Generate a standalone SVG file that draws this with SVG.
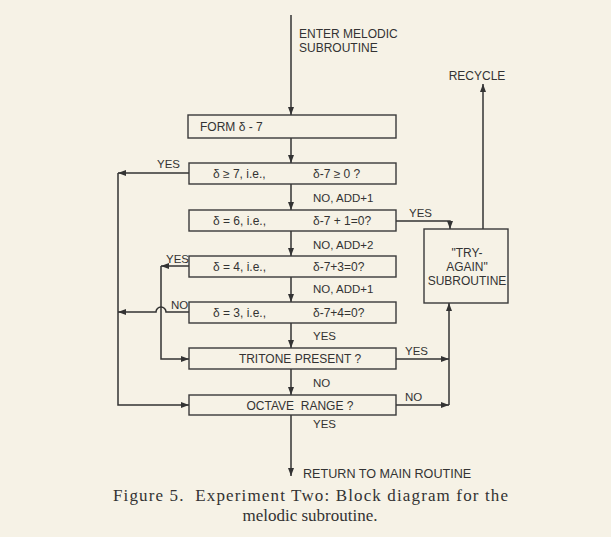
<svg xmlns="http://www.w3.org/2000/svg" width="611" height="537" viewBox="0 0 611 537">
<defs>
<marker id="ah" markerWidth="8" markerHeight="6" refX="8" refY="3" orient="auto" markerUnits="userSpaceOnUse"><path d="M0,0 L8,3 L0,6 z" fill="#333"/></marker>
</defs>
<style>
.bx{fill:none;stroke:#3a3a3a;stroke-width:1.4}
.ln{fill:none;stroke:#333;stroke-width:1.5}
.t{font-family:"Liberation Sans",Arial,sans-serif;font-size:12px;fill:#333}
.s{font-family:"Liberation Sans",Arial,sans-serif;font-size:11.5px;fill:#333}
.c{font-family:"Liberation Serif","Times New Roman",serif;font-size:17px;fill:#333}
</style>
<rect width="611" height="537" fill="#f6f2e6"/>
<g id="connectors">
<path class="ln" d="M291,15 V115" marker-end="url(#ah)"/>
<path class="ln" d="M291,138 V163" marker-end="url(#ah)"/>
<path class="ln" d="M291,184 V210" marker-end="url(#ah)"/>
<path class="ln" d="M291,231 V256" marker-end="url(#ah)"/>
<path class="ln" d="M291,277 V302" marker-end="url(#ah)"/>
<path class="ln" d="M291,323 V348" marker-end="url(#ah)"/>
<path class="ln" d="M291,369 V395" marker-end="url(#ah)"/>
<path class="ln" d="M291,415 V476" marker-end="url(#ah)"/>
<path class="ln" d="M189,173 H118" marker-end="url(#ah)"/>
<path class="ln" d="M118,173 V405 H189" marker-end="url(#ah)"/>
<path class="ln" d="M189,266 H161" marker-end="url(#ah)"/>
<path class="ln" d="M161,266 V359 H189" marker-end="url(#ah)"/>
<path class="ln" d="M189,312 H166 A5,5 0 0 0 156,312 H118" marker-end="url(#ah)"/>
<path class="ln" d="M396,221 H450 V229" marker-end="url(#ah)"/>
<path class="ln" d="M483,229 V84" marker-end="url(#ah)"/>
<path class="ln" d="M396,359 H449" marker-end="url(#ah)"/>
<path class="ln" d="M396,405 H449" marker-end="url(#ah)"/>
<path class="ln" d="M449,405 V303" marker-end="url(#ah)"/>
</g>
<g id="labels">
<text class="t" x="299" y="38">ENTER MELODIC</text>
<text class="t" x="299" y="51.5">SUBROUTINE</text>
<text class="t" x="477" y="80" text-anchor="middle">RECYCLE</text>
<text class="s" x="157" y="168">YES</text>
<text class="s" x="313" y="202">NO, ADD+1</text>
<text class="s" x="409" y="217">YES</text>
<text class="s" x="313" y="249">NO, ADD+2</text>
<text class="s" x="166" y="263">YES</text>
<text class="s" x="313" y="293">NO, ADD+1</text>
<text class="s" x="171" y="309">NO</text>
<text class="s" x="313" y="340">YES</text>
<text class="s" x="405" y="355">YES</text>
<text class="s" x="313" y="387">NO</text>
<text class="s" x="405" y="401">NO</text>
<text class="s" x="313" y="428">YES</text>
<text class="t" x="303" y="478" style="font-size:12.6px">RETURN TO MAIN ROUTINE</text>
</g>
<g id="n-form"><rect class="bx" x="188" y="115" width="208" height="23"/><text class="t" x="200" y="131">FORM δ - 7</text></g>
<g id="n-d7"><rect class="bx" x="189" y="163" width="207" height="21"/><text class="t" x="213" y="177.5" xml:space="preserve">δ ≥ 7, i.e.,</text><text class="t" x="313" y="177.5">δ-7 ≥ 0 ?</text></g>
<g id="n-d6"><rect class="bx" x="189" y="210" width="207" height="21"/><text class="t" x="213" y="225" xml:space="preserve">δ = 6, i.e.,</text><text class="t" x="313" y="225">δ-7 + 1=0?</text></g>
<g id="n-d4"><rect class="bx" x="189" y="256" width="207" height="21"/><text class="t" x="213" y="271" xml:space="preserve">δ = 4, i.e.,</text><text class="t" x="313" y="271">δ-7+3=0?</text></g>
<g id="n-d3"><rect class="bx" x="189" y="302" width="207" height="21"/><text class="t" x="213" y="317" xml:space="preserve">δ = 3, i.e.,</text><text class="t" x="313" y="317">δ-7+4=0?</text></g>
<g id="n-tritone"><rect class="bx" x="189" y="348" width="207" height="21"/><text class="t" x="300" y="363" text-anchor="middle">TRITONE PRESENT ?</text></g>
<g id="n-octave"><rect class="bx" x="189" y="395" width="207" height="20"/><text class="t" x="300" y="409.5" text-anchor="middle" xml:space="preserve">OCTAVE  RANGE ?</text></g>
<g id="n-tryagain"><rect class="bx" x="424" y="229" width="84" height="74"/><text class="t" x="467" y="257" text-anchor="middle">"TRY-</text><text class="t" x="467" y="271" text-anchor="middle">AGAIN"</text><text class="t" x="467" y="285" text-anchor="middle">SUBROUTINE</text></g>
<g id="caption">
<text class="c" x="113" y="501" textLength="395" lengthAdjust="spacing" xml:space="preserve">Figure 5.  Experiment Two: Block diagram for the</text>
<text class="c" x="310" y="521" text-anchor="middle">melodic subroutine.</text>
</g>
</svg>
